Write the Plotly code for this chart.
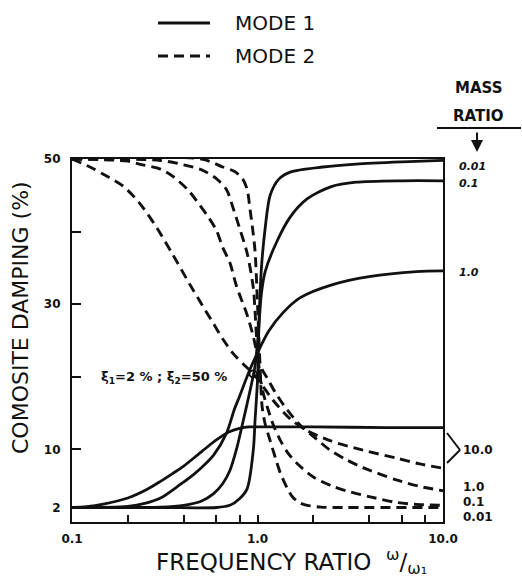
import plotly.graph_objects as go

# ---------------- data ----------------
mass_ratios = ["0.01", "0.1", "1.0", "10.0"]

# Mode 1 (solid) composite damping (%) vs frequency ratio
m1_001_f = [0.1, 0.3, 0.6, 0.71, 0.8, 0.88, 0.95, 0.97, 1.0, 1.02, 1.05, 1.1, 1.17, 1.3, 1.5, 2.25, 3.4, 6, 10]
m1_001_v = [2, 2, 2, 2.3, 3.2, 4.6, 10, 14, 19.5, 28, 35, 40.5, 45, 47.2, 48.2, 48.9, 49.3, 49.6, 49.8]

m1_01_f = [0.1, 0.3, 0.4, 0.5, 0.58, 0.65, 0.71, 0.77, 0.83, 0.91, 0.97, 1.01, 1.05, 1.1, 1.27, 1.5, 1.85, 2.5, 3.4, 6, 10]
m1_01_v = [2, 2.05, 2.3, 2.9, 3.9, 5.3, 7.1, 10, 13.5, 18, 21.5, 26, 31.5, 34.5, 38.6, 42, 44.5, 46.2, 46.8, 47, 47]

m1_1_f = [0.1, 0.2, 0.25, 0.3, 0.38, 0.45, 0.5, 0.58, 0.68, 0.75, 0.8, 0.91, 1.0, 1.15, 1.37, 1.7, 2.54, 4, 7.2, 10]
m1_1_v = [2, 2.15, 2.6, 3.3, 5.1, 6.5, 7.5, 9.2, 12.2, 15.5, 17.3, 21, 23.3, 26.3, 28.8, 30.9, 32.7, 33.8, 34.5, 34.6]

m1_10_f = [0.1, 0.12, 0.15, 0.2, 0.25, 0.3, 0.35, 0.4, 0.5, 0.6, 0.7, 0.8, 0.9, 1, 2, 5, 10]
m1_10_v = [2, 2.1, 2.5, 3.3, 4.4, 5.6, 6.7, 7.7, 9.7, 11.3, 12.4, 12.9, 13.1, 13.1, 13.1, 13.0, 13.0]

# Mode 2 (dashed)
m2_001_f = [0.1, 0.5, 0.65, 0.75, 0.83, 0.88, 0.91, 0.94, 0.97, 1.0, 1.03, 1.06, 1.1, 1.17, 1.25, 1.33, 1.45, 1.55, 1.7, 1.85, 2.2, 3, 10]
m2_001_v = [50, 50, 48.9, 48.3, 47.3, 45.8, 43.2, 40.5, 37.3, 30, 22, 15.8, 13.5, 11.2, 8.8, 6.7, 4.6, 3.4, 2.6, 2.3, 2.05, 2, 2]

m2_01_f = [0.1, 0.3, 0.4, 0.5, 0.6, 0.68, 0.74, 0.8, 0.88, 0.95, 0.97, 1.0, 1.04, 1.08, 1.13, 1.22, 1.33, 1.45, 1.63, 2.0, 2.5, 3.0, 4.0, 5.6, 7.5, 10]
m2_01_v = [50, 49.8, 49.2, 48.5, 47.3, 45.8, 43.2, 40.5, 37, 32.2, 29, 23.5, 19.5, 17.5, 15.8, 13.3, 11.2, 9.6, 8.1, 6.2, 5.0, 4.3, 3.5, 2.7, 2.4, 2.3]

m2_1_f = [0.1, 0.2, 0.23, 0.3, 0.35, 0.42, 0.49, 0.55, 0.6, 0.65, 0.71, 0.77, 0.88, 0.95, 1.0, 1.06, 1.13, 1.25, 1.45, 1.69, 2.0, 2.46, 3.0, 3.7, 5.6, 7.5, 10]
m2_1_v = [50, 49.7, 49.3, 48.6, 47.6, 45.8, 43.6, 41.8, 40.2, 37.8, 35.7, 32.5, 28.5, 25.5, 23, 21, 19.8, 17.8, 15.4, 13.4, 11.8, 9.9, 8.6, 7.5, 5.8, 4.9, 4.3]

m2_10_f = [0.1, 0.125, 0.15, 0.188, 0.23, 0.287, 0.35, 0.43, 0.5, 0.58, 0.65, 0.74, 0.85, 0.95, 1.05, 1.21, 1.5, 1.85, 2.46, 3.7, 5.6, 7.5, 10]
m2_10_v = [50, 48.9, 47.8, 46.3, 44, 40.5, 36.8, 32.8, 30, 27.3, 25.2, 23.2, 21.6, 20.4, 19, 16.8, 14.2, 12.6, 11.2, 9.9, 8.8, 8.0, 7.4]

marker_f = [0.946]
marker_v = [20.4]

x_tickvals = [0.1, 0.2, 0.4, 0.6, 0.8, 1, 2, 4, 6, 8, 10]
x_ticktext = ["<b>0.1</b>", "", "", "", "", "<b>1.0</b>", "", "", "", "", "<b>10.0</b>"]
y_tickvals = [2, 10, 20, 30, 40, 50]
y_ticktext = ["<b>2</b>", "<b>10</b>", "", "<b>30</b>", "", "<b>50</b>"]

legend_names = ["MODE 1", "MODE 2"]

# right-hand labels: (text, y-value position)
right_top_labels = [("0.01", 48.9), ("0.1", 46.6), ("1.0", 34.4)]
right_bottom_labels = [("10.0", 9.9), ("1.0", 4.8), ("0.1", 2.75), ("0.01", 0.7)]

# ---------------- figure ----------------
FONT = "DejaVu Sans"
BLACK = "#111111"
DASH = "10px,6px"
L, R, T, B = 72, 443, 159, 522
PW, PH = R - L, B - T


def px(xp):
    return (xp - L) / PW


def py(yp):
    return (B - yp) / PH


fig = go.Figure()

mode1 = [(m1_001_f, m1_001_v), (m1_01_f, m1_01_v), (m1_1_f, m1_1_v), (m1_10_f, m1_10_v)]
mode2 = [(m2_001_f, m2_001_v), (m2_01_f, m2_01_v), (m2_1_f, m2_1_v), (m2_10_f, m2_10_v)]

for i, (f, v) in enumerate(mode1):
    fig.add_trace(go.Scatter(x=f, y=v, mode="lines", name=legend_names[0] + " (" + mass_ratios[i] + ")",
                             showlegend=False,
                             line=dict(color=BLACK, width=2.8, shape="spline", smoothing=0.8)))
for i, (f, v) in enumerate(mode2):
    fig.add_trace(go.Scatter(x=f, y=v, mode="lines", name=legend_names[1] + " (" + mass_ratios[i] + ")",
                             showlegend=False,
                             line=dict(color=BLACK, width=2.9, dash=DASH, shape="spline", smoothing=0.8)))

fig.add_trace(go.Scatter(x=marker_f, y=marker_v, mode="markers", showlegend=False,
                         marker=dict(symbol="circle-open", size=7, color=BLACK, line=dict(width=1.8))))

axis_font = dict(family=FONT, size=12, color=BLACK)
fig.update_xaxes(type="log", range=[-1, 1], showline=True, linewidth=2.2, linecolor=BLACK,
                 mirror=True, ticks="inside", ticklen=7, tickwidth=1.6, tickcolor=BLACK,
                 tickvals=x_tickvals, ticktext=x_ticktext, showgrid=False, zeroline=False,
                 tickfont=axis_font, ticklabelstandoff=4)
fig.update_yaxes(range=[0, 50], showline=True, linewidth=2.2, linecolor=BLACK,
                 mirror=True, ticks="inside", ticklen=9, tickwidth=1.6, tickcolor=BLACK,
                 tickvals=y_tickvals, ticktext=y_ticktext, showgrid=False, zeroline=False,
                 tickfont=axis_font, ticklabelstandoff=7)

ann = []
# axis titles
ann.append(dict(text="COMOSITE DAMPING (%)", xref="paper", yref="paper",
                x=px(20), y=py(318), textangle=-90, showarrow=False,
                xanchor="center", yanchor="middle",
                font=dict(family=FONT, size=22, color=BLACK)))
ann.append(dict(text="FREQUENCY RATIO  <sup>ω</sup>/<sub>ω₁</sub>", xref="paper", yref="paper",
                x=px(291), y=py(561), showarrow=False, xanchor="center", yanchor="middle",
                font=dict(family=FONT, size=23, color=BLACK)))
# damping annotation
ann.append(dict(text="<b>ξ<sub>1</sub>=2 % ; ξ<sub>2</sub>=50 %</b>", xref="paper", yref="paper",
                x=px(99), y=py(377), xanchor="left", yanchor="middle", showarrow=False,
                font=dict(family=FONT, size=13, color=BLACK)))
# right side labels
for t, yv in right_top_labels:
    ann.append(dict(text="<b><i>%s</i></b>" % t, xref="paper", yref="y", x=px(457), y=yv,
                    xanchor="left", yanchor="middle", showarrow=False,
                    font=dict(family=FONT, size=11, color=BLACK)))
for t, yv in right_bottom_labels:
    ann.append(dict(text="<b>%s</b>" % t, xref="paper", yref="y", x=px(461), y=yv,
                    xanchor="left", yanchor="middle", showarrow=False,
                    font=dict(family=FONT, size=12, color=BLACK)))
# MASS RATIO heading
ann.append(dict(text="<b>MASS</b>", xref="paper", yref="paper", x=px(479), y=py(88),
                xanchor="center", yanchor="middle", showarrow=False,
                font=dict(family=FONT, size=15, color=BLACK)))
ann.append(dict(text="<b>RATIO</b>", xref="paper", yref="paper", x=px(479), y=py(116),
                xanchor="center", yanchor="middle", showarrow=False,
                font=dict(family=FONT, size=15, color=BLACK)))
ann.append(dict(text="", xref="paper", yref="paper", x=px(477), y=py(152),
                ax=0, ay=-21, showarrow=True, arrowhead=2, arrowsize=1.2, arrowwidth=2, arrowcolor=BLACK))
# legend (drawn as key lines + labels)
legend_rows = [(23, "solid"), (56, DASH)]
for (yrow, _), name in zip(legend_rows, legend_names):
    ann.append(dict(text=name, xref="paper", yref="paper", x=px(233), y=py(yrow),
                    xanchor="left", yanchor="middle", showarrow=False,
                    font=dict(family=FONT, size=20, color=BLACK)))

shapes = [
    dict(type="line", xref="paper", yref="paper", x0=px(437), x1=px(521),
         y0=py(128), y1=py(128), line=dict(color=BLACK, width=2)),
    dict(type="line", xref="paper", yref="paper", x0=px(447), x1=px(460),
         y0=py(433), y1=py(450), line=dict(color=BLACK, width=2)),
    dict(type="line", xref="paper", yref="paper", x0=px(447), x1=px(460),
         y0=py(463), y1=py(450), line=dict(color=BLACK, width=2)),
]
for yrow, dash in legend_rows:
    shapes.append(dict(type="line", xref="paper", yref="paper", x0=px(158), x1=px(210),
                       y0=py(yrow), y1=py(yrow), line=dict(color=BLACK, width=2.8, dash=dash)))

fig.update_layout(
    width=522, height=577,
    margin=dict(l=L, r=522 - R, t=T, b=577 - B, pad=0),
    paper_bgcolor="white", plot_bgcolor="white",
    font=dict(family=FONT, color=BLACK),
    annotations=ann, shapes=shapes,
    showlegend=False,
)

fig.write_html("out.html")
